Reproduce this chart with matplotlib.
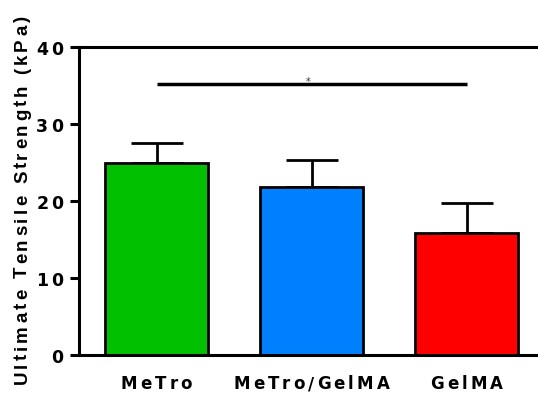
import matplotlib
matplotlib.use("Agg")
import matplotlib.pyplot as plt
from matplotlib.font_manager import FontProperties, findfont, get_font
from matplotlib.transforms import offset_copy, blended_transform_factory

# dados
grupos = ["MeTro", "MeTro/GelMA", "GelMA"]
medias = [24.9, 21.8, 15.9]
desvios = [2.6, 3.5, 3.8]
cores = ["#00c000", "#0080ff", "#ff0000"]
yticks = [0, 10, 20, 30, 40]
sig_y = 35.2
ylabel = "Ultimate Tensile Strength (kPa)"

fig = plt.figure(figsize=(5.38, 3.94), dpi=100)
ax = fig.add_axes([79 / 538, 39 / 394, 465 / 538, 308 / 394])

# largura de avanço de cada caractere (em pontos)
def avancos(s, prop):
    font = get_font(findfont(prop))
    font.set_size(prop.get_size_in_points(), 72)
    return [font.load_char(ord(c)).linearHoriAdvance / 65536 for c in s]

# texto com espaçamento entre letras
def texto_espacado(x, y, s, base, dx=0, dy=0, ha="center", rotation=0,
                   family="DejaVu Sans", size=11, track=3.3):
    prop = FontProperties(family=family, weight="bold", size=size)
    adv = avancos(s, prop)
    total = sum(adv) + track * (len(s) - 1)
    pos = {"left": 0, "center": -total / 2, "right": -total}[ha]
    ux, uy = (1, 0) if rotation == 0 else (0, 1)
    for c, a in zip(s, adv):
        if c != " ":
            tr = offset_copy(base, fig=fig, x=dx + pos * ux, y=dy + pos * uy, units="points")
            fig.text(x, y, c, transform=tr, fontproperties=prop, ha="left",
                     va="baseline", rotation=rotation, rotation_mode="anchor")
        pos += a + track

x = list(range(len(grupos)))
ax.errorbar(x, medias, yerr=[[0] * len(x), desvios], fmt="none", ecolor="black",
            elinewidth=2, capsize=18.7, capthick=2, zorder=1)
ax.bar(x, medias, width=0.67, color=cores, edgecolor="black", linewidth=2, zorder=2)

# linha de significância
ax.plot([0, 2], [sig_y, sig_y], color="black", lw=2.5, solid_capstyle="butt")
ax.text(0.975, sig_y - 0.35, "*", ha="center", va="bottom", fontsize=7, color="#333333")

ax.set_xlim(-0.5, 2.5)
ax.set_ylim(0, 40)
ax.set_yticks(yticks)
ax.set_yticklabels([])
ax.set_xticks(x)
ax.set_xticklabels([])
ax.tick_params(axis="y", length=6.5, width=2.2, direction="out")
ax.tick_params(axis="x", length=0)
for lado in ["left", "bottom", "top"]:
    ax.spines[lado].set_linewidth(2.2)
ax.spines["right"].set_visible(False)

# rótulos do eixo x
tx = blended_transform_factory(ax.transData, ax.transAxes)
for xi, g in zip(x, grupos):
    texto_espacado(xi, 0, g, tx, dy=-24.8, ha="center", size=12, track=2.2)

# rótulos do eixo y
ty = blended_transform_factory(ax.transAxes, ax.transData)
for v in yticks:
    texto_espacado(0, v, str(v), ty, dx=-11.5, dy=-6.0, ha="right", size=12.5, track=1.8)

# título do eixo y
texto_espacado(27 / 100, 194 / 100, ylabel, fig.dpi_scale_trans, ha="center",
               rotation=90, family="Liberation Sans", size=13.5, track=2.2)

fig.savefig("out.png", dpi=100)
